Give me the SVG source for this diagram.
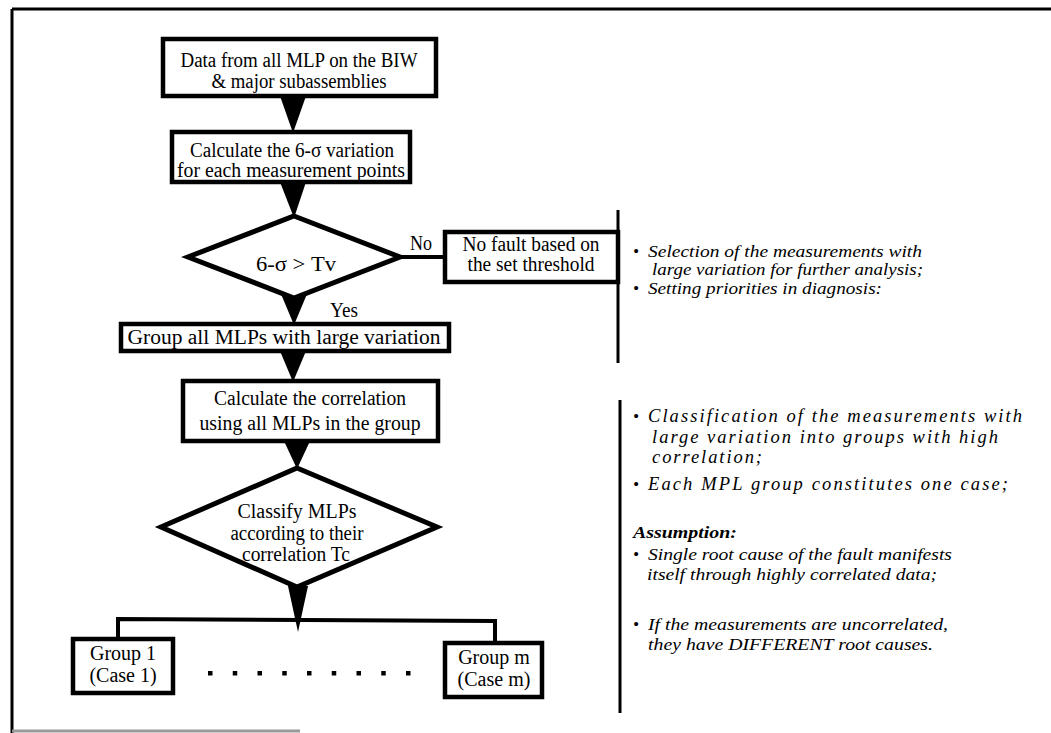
<svg xmlns="http://www.w3.org/2000/svg" width="1051" height="733" viewBox="0 0 1051 733">
<style>
.box{fill:#fff;stroke:#000;stroke-width:4.5}
.dia{fill:#fff;stroke:#000;stroke-width:5;stroke-linejoin:miter}
.t{font-family:"Liberation Serif","Times New Roman",serif;font-size:20px;fill:#000;text-anchor:middle}
.lbl{font-family:"Liberation Serif","Times New Roman",serif;font-size:20px;fill:#000}
.r{font-family:"Liberation Serif","Times New Roman",serif;font-style:italic;font-size:17px;fill:#000}
.r2{font-family:"Liberation Serif","Times New Roman",serif;font-style:italic;font-size:18.5px;fill:#000}
.b{font-weight:bold}
.conn{stroke:#000;stroke-width:4;fill:none}
.arr{fill:#000;stroke:none}
.frame{stroke:#000;stroke-width:3;fill:none}
</style>
<g id="frame">
<line class="frame" x1="12" y1="9" x2="1051" y2="9"/>
<line class="frame" x1="12" y1="9" x2="12" y2="733"/>
<line x1="12" y1="731" x2="300" y2="731" stroke="#999" stroke-width="3"/>
</g>
<g id="connectors">
<polygon class="arr" points="280,96 306,96 293,133"/>
<polygon class="arr" points="280,182 306,182 294,218"/>
<line class="conn" x1="398" y1="257" x2="445" y2="257"/>
<polygon class="arr" points="281,294 307,294 294,325"/>
<polygon class="arr" points="280,351 306,351 293,382"/>
<polygon class="arr" points="284,441 310,441 297,469"/>
<polygon class="arr" points="288,586 308,586 298,632"/>
<polyline class="conn" points="118,639 118,619 495,621 495,643"/>
<line class="frame" x1="618" y1="210" x2="618" y2="363"/>
<line class="frame" x1="620" y1="400" x2="620" y2="713"/>
</g>
<g id="n1">
<rect class="box" x="163" y="39" width="273" height="57"/>
<text class="t" x="299" y="67" textLength="237" lengthAdjust="spacingAndGlyphs">Data from all MLP on the BIW</text>
<text class="t" x="299" y="88" textLength="175" lengthAdjust="spacingAndGlyphs">&amp; major  subassemblies</text>
</g>
<g id="n2">
<rect class="box" x="172" y="132" width="238" height="50"/>
<text class="t" x="292" y="157" textLength="204" lengthAdjust="spacingAndGlyphs">Calculate the 6-σ variation</text>
<text class="t" x="291" y="177" textLength="228" lengthAdjust="spacingAndGlyphs">for each measurement points</text>
</g>
<g id="d1">
<polygon class="dia" points="294,216 400,257 294,298 188,257"/>
<text class="t" x="296" y="271" textLength="80" lengthAdjust="spacingAndGlyphs">6-σ &gt; Tv</text>
</g>
<g id="nofault">
<rect class="box" x="445" y="232" width="173" height="50"/>
<text class="t" x="531" y="251" textLength="137" lengthAdjust="spacingAndGlyphs">No fault based on</text>
<text class="t" x="531" y="271" textLength="127" lengthAdjust="spacingAndGlyphs">the set threshold</text>
</g>
<g id="labels">
<text class="lbl" x="410" y="250" textLength="22" lengthAdjust="spacingAndGlyphs">No</text>
<text class="lbl" x="330" y="317" textLength="28" lengthAdjust="spacingAndGlyphs">Yes</text>
</g>
<g id="n3">
<rect class="box" x="121" y="324" width="328" height="27"/>
<text class="t" x="284" y="344" textLength="313" lengthAdjust="spacingAndGlyphs">Group all MLPs with large variation</text>
</g>
<g id="n4">
<rect class="box" x="183" y="381" width="255" height="60"/>
<text class="t" x="310" y="405" textLength="192" lengthAdjust="spacingAndGlyphs">Calculate the correlation</text>
<text class="t" x="310" y="430" textLength="221" lengthAdjust="spacingAndGlyphs">using all MLPs in the group</text>
</g>
<g id="d2">
<polygon class="dia" points="297,468 437,527 297,587 161,527"/>
<text class="t" x="297" y="518" textLength="119" lengthAdjust="spacingAndGlyphs">Classify MLPs</text>
<text class="t" x="297" y="540" textLength="133" lengthAdjust="spacingAndGlyphs">according to their</text>
<text class="t" x="296" y="561" textLength="108" lengthAdjust="spacingAndGlyphs">correlation Tc</text>
</g>
<g id="g1">
<rect class="box" x="73" y="639" width="100" height="54"/>
<text class="t" x="123" y="660">Group 1</text>
<text class="t" x="123" y="682">(Case 1)</text>
</g>
<g id="gm">
<rect class="box" x="445" y="643" width="97" height="54"/>
<text class="t" x="494" y="664">Group m</text>
<text class="t" x="494" y="686">(Case m)</text>
</g>
<g id="dots" fill="#000">
<rect x="208" y="671" width="4.5" height="4.5"/>
<rect x="232.75" y="671" width="4.5" height="4.5"/>
<rect x="257.5" y="671" width="4.5" height="4.5"/>
<rect x="282.25" y="671" width="4.5" height="4.5"/>
<rect x="307" y="671" width="4.5" height="4.5"/>
<rect x="331.75" y="671" width="4.5" height="4.5"/>
<rect x="356.5" y="671" width="4.5" height="4.5"/>
<rect x="381.25" y="671" width="4.5" height="4.5"/>
<rect x="406" y="671" width="4.5" height="4.5"/>
</g>
<g id="notes1">
<text class="r" x="633" y="257">•</text>
<text class="r" x="648" y="257" textLength="274" lengthAdjust="spacingAndGlyphs">Selection of the measurements with</text>
<text class="r" x="652" y="275" textLength="271" lengthAdjust="spacingAndGlyphs">large variation for further analysis;</text>
<text class="r" x="633" y="294">•</text>
<text class="r" x="648" y="294" textLength="234" lengthAdjust="spacingAndGlyphs">Setting priorities in diagnosis:</text>
</g>
<g id="notes2">
<text class="r" x="633" y="422">•</text>
<text class="r2" x="648" y="422" textLength="374" lengthAdjust="spacing">Classification of the measurements with</text>
<text class="r2" x="652" y="443" textLength="346" lengthAdjust="spacing">large variation into groups with high</text>
<text class="r2" x="652" y="463" textLength="110" lengthAdjust="spacing">correlation;</text>
<text class="r" x="633" y="490">•</text>
<text class="r2" x="648" y="490" textLength="360" lengthAdjust="spacing">Each MPL group constitutes one case;</text>
<text class="r b" x="633" y="538" textLength="104" lengthAdjust="spacingAndGlyphs">Assumption:</text>
<text class="r" x="633" y="560">•</text>
<text class="r" x="648" y="560" textLength="304" lengthAdjust="spacingAndGlyphs">Single root cause of the fault manifests</text>
<text class="r" x="647" y="580" textLength="290" lengthAdjust="spacingAndGlyphs">itself through highly correlated data;</text>
<text class="r" x="633" y="630">•</text>
<text class="r" x="648" y="630" textLength="300" lengthAdjust="spacingAndGlyphs">If the measurements are uncorrelated,</text>
<text class="r" x="648" y="650" textLength="285" lengthAdjust="spacingAndGlyphs">they have DIFFERENT root causes.</text>
</g>
</svg>
